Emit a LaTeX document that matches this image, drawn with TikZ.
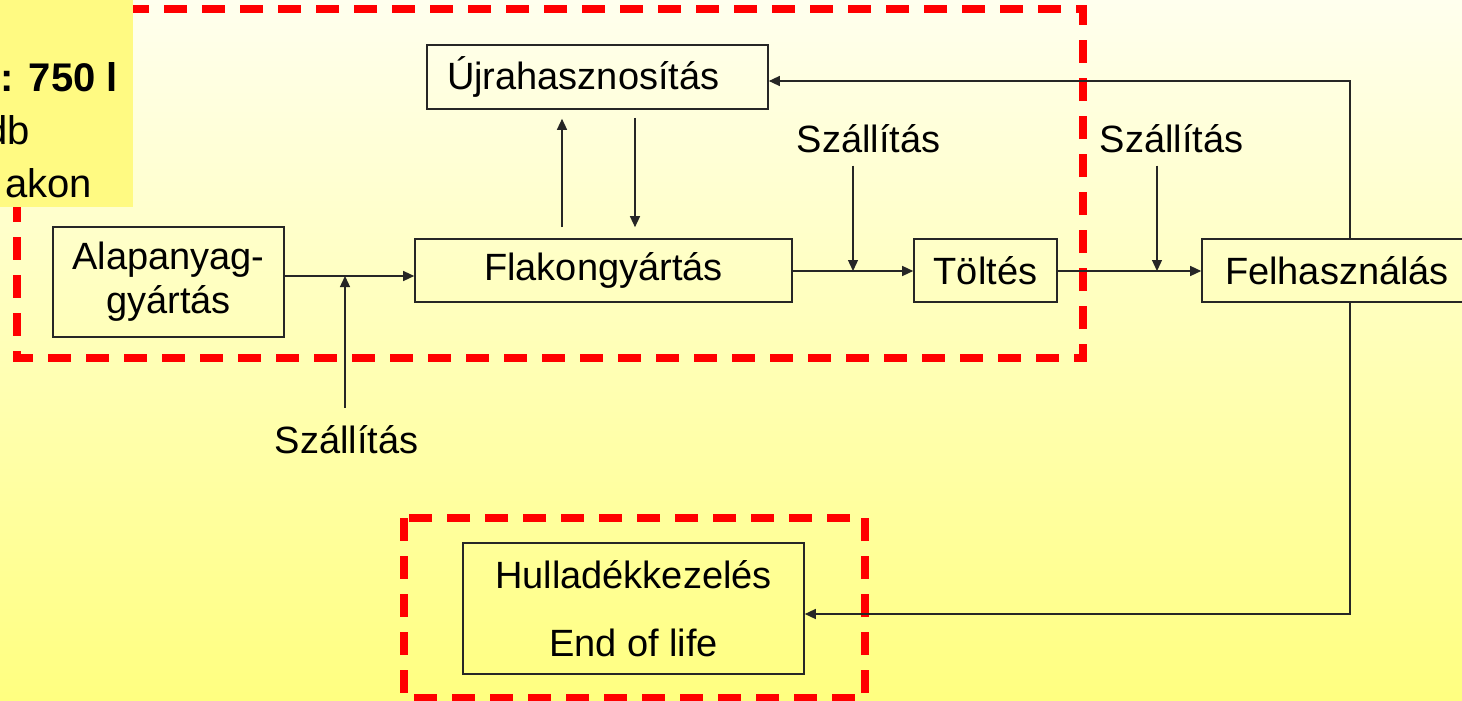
\documentclass[tikz,border=0pt]{standalone}
\usepackage{fontspec}
\setmainfont{Liberation Sans}
\usetikzlibrary{arrows.meta,calc}
\definecolor{bgtop}{RGB}{255,255,238}
\definecolor{bgbot}{RGB}{255,255,128}
\definecolor{notey}{RGB}{255,250,130}
\begin{document}
\begin{tikzpicture}[x=1pt,y=-1pt,
  box/.style={draw=black!85, line width=1.6pt, inner sep=0pt, font=\fontsize{38}{44}\selectfont, align=center},
  lbl/.style={inner sep=0pt, font=\fontsize{38}{44}\selectfont},
  note/.style={anchor=base east, inner sep=0pt, font=\fontsize{40}{48}\selectfont},
  arr/.style={line width=1.3pt, draw=black!85, -{Triangle[length=11pt,width=10pt]}},
  reddash/.style={draw=red, line width=8pt, dash pattern=on 23pt off 15pt}]
\useasboundingbox (0,0) rectangle (1462,701);
\shade[top color=bgtop, bottom color=bgbot] (0,0) rectangle (1462,701);
% red dashed frames
\draw[reddash] (17,9) rectangle (1083,358);
\draw[reddash] (404,518) rectangle (865,698);
% note box at top left
\fill[notey] (0,0) rectangle (133,207);
\begin{scope}
\clip (0,0) rectangle (133,207);
\node[note, font=\fontsize{40}{48}\selectfont\bfseries] (n1) at (118,92) {: 750 l};
\node[note] (n2) at (30,144) {db};
\node[note] (n3) at (92,197) {akon};
\end{scope}
% boxes
\node[box, minimum width=341pt, minimum height=64pt, text width=301pt, align=left] (ujra) at (597.5,77) {Újrahasznosítás};
\node[box, minimum width=231pt, minimum height=110pt] (alap) at (168.5,282) {Alapanyag-\\gyártás};
\node[box, minimum width=377pt, minimum height=63pt] (flak) at (603.5,270.5) {Flakongyártás};
\node[box, minimum width=143pt, minimum height=63pt] (tolt) at (985.5,270.5) {Töltés};
\node[box, minimum width=270pt, minimum height=63pt] (felh) at (1337,270.5) {Felhasználás};
\node[box, minimum width=341pt, minimum height=131pt] (hull) at (633.5,608.5) {Hulladékkezelés\\[24pt]End of life};
% labels
\node[lbl, anchor=base] (s1) at (346.5,453) {Szállítás};
\node[lbl, anchor=base] (s2) at (868.5,152) {Szállítás};
\node[lbl, anchor=base] (s3) at (1171.5,152) {Szállítás};
% helper coordinates
\coordinate (j1) at (345,276);
\coordinate (j2) at (853,271);
\coordinate (j3) at (1157,271);
\coordinate (c1) at (1350,81);
\coordinate (c2) at (1350,614);
\coordinate (ux1) at (562,0);
\coordinate (ux2) at (635,0);
% connectors
\draw[arr] (alap.east |- j1) -- (flak.west |- j1);
\draw[arr] (j1 |- s1.north) ++(0,-17) -- (j1);
\draw[arr] (flak.east |- j2) -- (tolt.west |- j2);
\draw[arr] (j2 |- s2.south) ++(0,13) -- (j2);
\draw[arr] (tolt.east |- j3) -- (felh.west |- j3);
\draw[arr] (j3 |- s3.south) ++(0,13) -- (j3);
\draw[arr] (felh.north -| c1) -- (c1) -- (ujra.east |- c1);
\draw[arr] (felh.south -| c1) -- (c2) -- (hull.east |- c2);
\draw[arr, shorten <=11pt, shorten >=9pt] (flak.north -| ux1) -- (ujra.south -| ux1);
\draw[arr, shorten <=8pt, shorten >=11pt] (ujra.south -| ux2) -- (flak.north -| ux2);
\end{tikzpicture}
\end{document}
